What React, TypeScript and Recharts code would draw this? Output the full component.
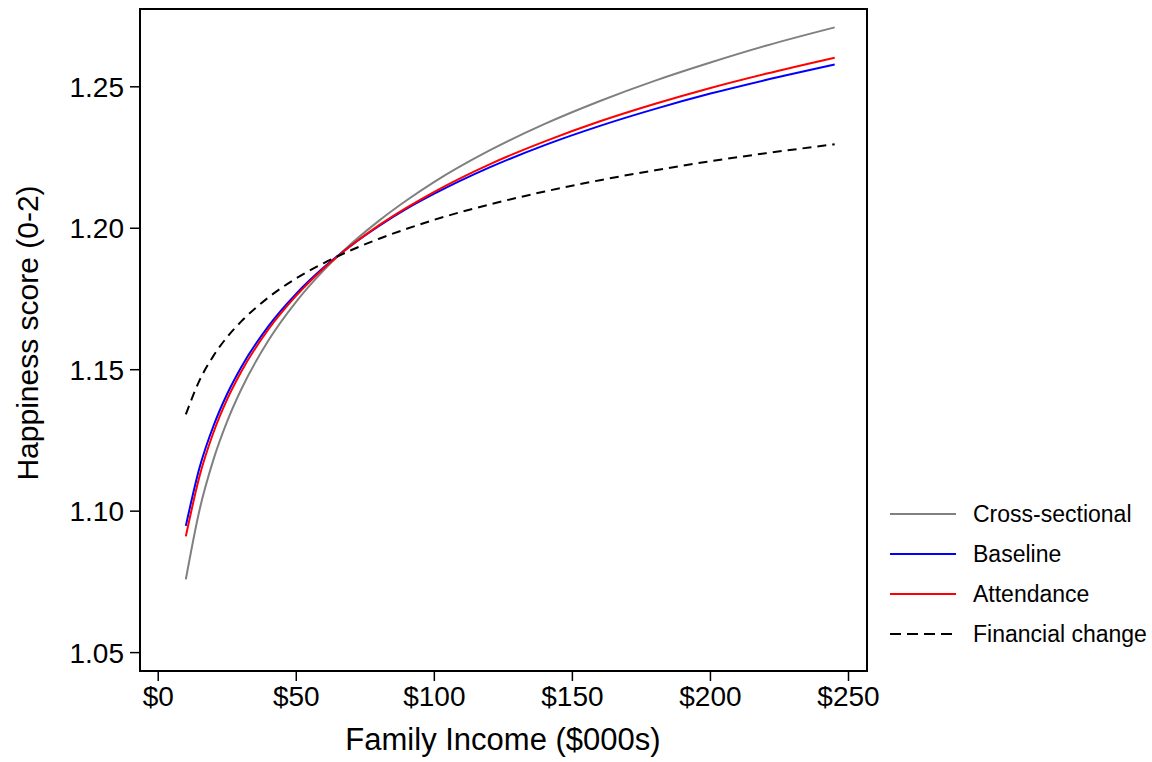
import React from "react";
import {
  LineChart,
  Line,
  XAxis,
  YAxis,
  ReferenceArea,
  Label,
} from "recharts";

// income in $000s
const incomes = [10, 15, 20, 25, 30, 40, 50, 60, 70, 80, 90, 100, 120, 140, 160, 180, 200, 220, 245];

const crossSectional = [1.0759, 1.1006, 1.1182, 1.1318, 1.1429, 1.1605, 1.1741, 1.1852, 1.1946, 1.2027, 1.2099, 1.2164, 1.2275, 1.2369, 1.245, 1.2522, 1.2586, 1.2645, 1.271];
const baseline = [1.0948, 1.1155, 1.1301, 1.1415, 1.1508, 1.1655, 1.1769, 1.1862, 1.194, 1.2008, 1.2069, 1.2122, 1.2215, 1.2294, 1.2362, 1.2422, 1.2476, 1.2524, 1.2579];
const attendance = [1.0911, 1.1125, 1.1278, 1.1396, 1.1492, 1.1644, 1.1762, 1.1859, 1.194, 1.2011, 1.2073, 1.2129, 1.2226, 1.2307, 1.2378, 1.244, 1.2496, 1.2546, 1.2603];
const financialChange = [1.1342, 1.1463, 1.1549, 1.1616, 1.167, 1.1756, 1.1823, 1.1877, 1.1923, 1.1963, 1.1998, 1.203, 1.2084, 1.213, 1.217, 1.2205, 1.2237, 1.2265, 1.2297];

const xTicks = [0, 50, 100, 150, 200, 250];
const yTicks = [1.05, 1.1, 1.15, 1.2, 1.25];
const xDomain = [-6.6, 256.7];
const yDomain = [1.0435, 1.2775];

const series = [
  { key: "cross", name: "Cross-sectional", color: "#808080", dash: undefined },
  { key: "baseline", name: "Baseline", color: "#0000ff", dash: undefined },
  { key: "attendance", name: "Attendance", color: "#ff0000", dash: undefined },
  { key: "financial", name: "Financial change", color: "#000000", dash: "9 6" },
];

const data = incomes.map((x, i) => ({
  income: x,
  cross: crossSectional[i],
  baseline: baseline[i],
  attendance: attendance[i],
  financial: financialChange[i],
}));

const FONT = '"Liberation Sans", Arial, Helvetica, sans-serif';

function LegendBox() {
  return (
    <div
      style={{
        position: "absolute",
        left: 889,
        top: 494,
        fontFamily: FONT,
        fontSize: 23,
        color: "#000",
      }}
    >
      {series.map((s) => (
        <div key={s.key} style={{ display: "flex", alignItems: "center", height: 40 }}>
          <svg width={84} height={10} style={{ display: "block" }}>
            <line x1={1} y1={5} x2={67} y2={5} stroke={s.color} strokeWidth={2} strokeDasharray={s.dash ? "11 6" : undefined} />
          </svg>
          <span>{s.name}</span>
        </div>
      ))}
    </div>
  );
}

export default function App() {
  return (
    <div style={{ position: "absolute", left: 0, top: 0, width: 1152, height: 762, background: "#fff" }}>
      <LineChart
        width={1152}
        height={762}
        data={data}
        margin={{ top: 9, right: 285, bottom: 0, left: 0 }}
        style={{ fontFamily: FONT }}
      >
        <XAxis
          dataKey="income"
          type="number"
          domain={xDomain}
          ticks={xTicks}
          allowDataOverflow
          height={91}
          tickFormatter={(v) => `$${v}`}
          tick={{ fill: "#000", fontSize: 28 }}
          tickSize={10}
          tickMargin={5}
          axisLine={{ stroke: "#000", strokeWidth: 2 }}
          tickLine={{ stroke: "#000", strokeWidth: 1.5 }}
        >
          <Label
            content={() => (
              <text x={503} y={750} textAnchor="middle" fontSize={31} fill="#000" fontFamily={FONT}>
                Family Income ($000s)
              </text>
            )}
          />
        </XAxis>
        <YAxis
          type="number"
          domain={yDomain}
          ticks={yTicks}
          allowDataOverflow
          width={140}
          tickFormatter={(v) => v.toFixed(2)}
          tick={{ fill: "#000", fontSize: 28 }}
          tickSize={10}
          tickMargin={6}
          axisLine={{ stroke: "#000", strokeWidth: 2 }}
          tickLine={{ stroke: "#000", strokeWidth: 1.5 }}
        >
          <Label
            content={() => (
              <text
                x={38}
                y={333}
                transform="rotate(-90, 38, 333)"
                textAnchor="middle"
                fontSize={30}
                fill="#000"
                fontFamily={FONT}
              >
                Happiness score (0-2)
              </text>
            )}
          />
        </YAxis>
        <ReferenceArea
          x1={xDomain[0]}
          x2={xDomain[1]}
          y1={yDomain[0]}
          y2={yDomain[1]}
          fill="none"
          fillOpacity={0}
          stroke="#000"
          strokeWidth={2}
          ifOverflow="visible"
        />
        {series.map((s) => (
          <Line
            key={s.key}
            type="monotone"
            dataKey={s.key}
            name={s.name}
            stroke={s.color}
            strokeWidth={2}
            strokeDasharray={s.dash}
            dot={false}
            activeDot={false}
            isAnimationActive={false}
          />
        ))}
      </LineChart>
      <LegendBox />
    </div>
  );
}
